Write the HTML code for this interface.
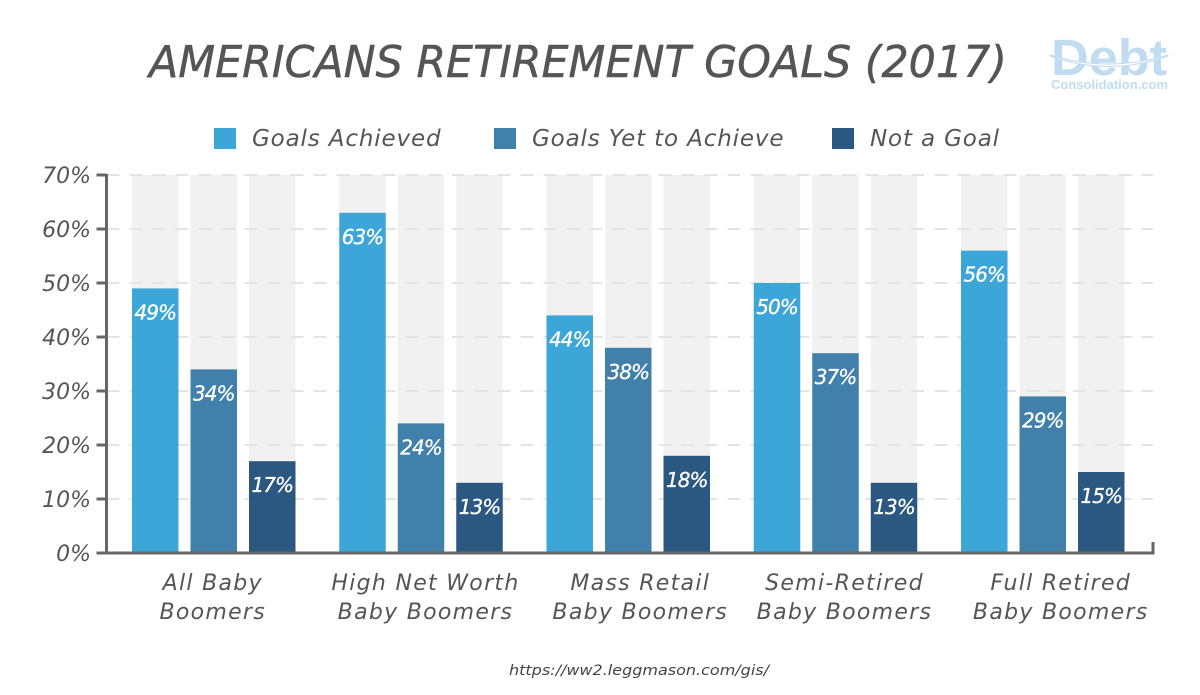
<!DOCTYPE html>
<html lang="en">
<head>
<meta charset="utf-8">
<title>Americans Retirement Goals (2017)</title>
<style>
html,body{margin:0;padding:0;background:#fff;width:1200px;height:695px;overflow:hidden}
svg{display:block;font-family:"DejaVu Sans","Liberation Sans",sans-serif}
text{font-style:italic}
</style>
</head>
<body>
<svg id="chart" width="1200" height="695" viewBox="0 0 1200 695" xmlns="http://www.w3.org/2000/svg">
  <text x="578" y="77" text-anchor="middle" font-size="44" fill="#555" stroke="#555" stroke-width="0.5" textLength="858" lengthAdjust="spacingAndGlyphs">AMERICANS RETIREMENT GOALS (2017)</text>
  <g>
    <text x="1051" y="75" font-size="51" font-weight="bold" fill="#bfdcf1" textLength="116" lengthAdjust="spacingAndGlyphs" style="font-style:normal;font-family:'Liberation Sans',sans-serif">Debt</text>
    <path d="M1050 55 Q1108 73 1168 55 L1168 56 Q1108 77 1050 56 Z" fill="#fff" stroke="#bfdcf1" stroke-width="1"/>
    <text x="1051" y="89" font-size="12.5" font-weight="bold" fill="#bfdcf1" textLength="117" lengthAdjust="spacingAndGlyphs" style="font-style:normal;font-family:'Liberation Sans',sans-serif">Consolidation.com</text>
  </g>
  <g id="legend"></g>
  <g id="plot"></g>
  <text x="639" y="675" text-anchor="middle" font-size="14" fill="#444" textLength="260" lengthAdjust="spacingAndGlyphs">https://ww2.leggmason.com/gis/</text>
</svg>
<script>
const categories = [
  ["All Baby", "Boomers"],
  ["High Net Worth", "Baby Boomers"],
  ["Mass Retail", "Baby Boomers"],
  ["Semi-Retired", "Baby Boomers"],
  ["Full Retired", "Baby Boomers"]
];
const seriesNames = ["Goals Achieved", "Goals Yet to Achieve", "Not a Goal"];
const goalsAchieved = [49, 63, 44, 50, 56];
const goalsYetToAchieve = [34, 24, 38, 37, 29];
const notAGoal = [17, 13, 18, 13, 15];
const yTicks = [0, 10, 20, 30, 40, 50, 60, 70];

const seriesValues = [goalsAchieved, goalsYetToAchieve, notAGoal];
const colors = ["#3ca6d9", "#4180ab", "#2a5880"];
const NS = "http://www.w3.org/2000/svg";
const plot = document.getElementById("plot");
const legend = document.getElementById("legend");
const y0 = 553, yTop = 175, axisMax = 70;
const axisX = 106.5, endX = 1153;
const firstBar = 132, groupStep = 207.25, barStep = 58.5, barW = 46.5;
const labelNudge = [-1, 4.5, 12, 9, 18];

function yScale(v) { return y0 - (v / axisMax) * (y0 - yTop); }
function xScale(g, s) { return firstBar + g * groupStep + s * barStep; }
function make(tag, attrs, parent, txt) {
  const el = document.createElementNS(NS, tag);
  for (const k in attrs) el.setAttribute(k, attrs[k]);
  if (txt !== undefined) el.textContent = txt;
  parent.appendChild(el);
  return el;
}

categories.forEach(function (c, g) {
  seriesValues.forEach(function (vals, s) {
    const track = make("rect", { x: xScale(g, s), y: yScale(axisMax), width: barW, height: y0 - yScale(axisMax), fill: "#f1f1f1" }, plot);
    
    
  });
});

yTicks.forEach(function (t) {
  const y = yScale(t);
  if (t > 0) {
    const grid = make("line", { x1: axisX, x2: endX, y1: y, y2: y, stroke: "#e4e4e4", "stroke-width": 2, "stroke-dasharray": "13 10" }, plot);
    
    
  }
});

categories.forEach(function (c, g) {
  seriesValues.forEach(function (vals, s) {
    const x = xScale(g, s);
    const bar = make("rect", { x: x, y: yScale(vals[g]), width: barW, height: y0 - yScale(vals[g]), fill: colors[s] }, plot);
    
    
    const lab = make("text", { x: x + barW / 2, y: yScale(vals[g]) + 31, "text-anchor": "middle", "font-size": 20, "letter-spacing": -1, fill: "#fff", stroke: "#fff", "stroke-width": 0.3 }, plot, vals[g] + "%");
    
    
  });
  const cx = xScale(g, 1) + barW / 2 + labelNudge[g];
  c.forEach(function (line, i) {
    const cat = make("text", { x: cx, y: 590 + i * 29, "text-anchor": "middle", "font-size": 22, "letter-spacing": 1.3, fill: "#555" }, plot, line);
    
    
  });
});

const yAxis = make("line", { x1: axisX, x2: axisX, y1: yTop - 1, y2: y0 + 1, stroke: "#666", "stroke-width": 3 }, plot);


const xAxis = make("path", { d: "M" + axisX + " " + y0 + "H" + endX + "V" + (y0 - 11), fill: "none", stroke: "#666", "stroke-width": 3 }, plot);



yTicks.forEach(function (t) {
  const y = yScale(t);
  const tick = make("line", { x1: axisX - 10, x2: axisX, y1: y, y2: y, stroke: "#666", "stroke-width": 3 }, plot);
  
  
  const lab = make("text", { x: 91, y: y + 8, "text-anchor": "end", "font-size": 22, fill: "#555" }, plot, t + "%");
  
  
});

const legendSwatchX = [214, 494, 832];
seriesNames.forEach(function (n, i) {
  const sw = make("rect", { x: legendSwatchX[i], y: 128, width: 22, height: 21, fill: colors[i] }, legend);
  
  
  const tx = make("text", { x: legendSwatchX[i] + 38, y: 146, "font-size": 23, "letter-spacing": 0.85, fill: "#555" }, legend, n);
  
  
});
</script>
</body>
</html>
